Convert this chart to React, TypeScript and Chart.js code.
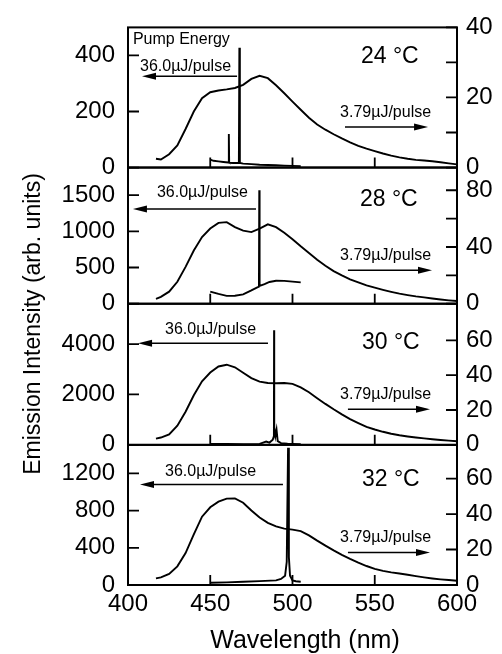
import React, { useEffect, useRef } from 'react';
import { Chart, registerables } from 'chart.js';
Chart.register(...registerables);

const FONT = '"Liberation Sans", Arial, Helvetica, sans-serif';

// ---- data ----
const temperatures = ['24 \u00b0C', '28 \u00b0C', '30 \u00b0C', '32 \u00b0C'];
const highPumpLabel = '36.0\u00b5J/pulse';
const lowPumpLabel = '3.79\u00b5J/pulse';
const pumpTitle = 'Pump Energy';
const xTitle = 'Wavelength (nm)';
const yTitle = 'Emission Intensity (arb. units)';

const xTickValues = [400, 450, 500, 550, 600];

// broad emission at 3.79 uJ/pulse (right axes)
const broadWavelengths = [417, 420, 425, 430, 435, 440, 445, 450, 455, 460, 465, 470, 475, 480, 485, 490, 495, 500, 505, 510, 515, 520, 525, 530, 535, 540, 545, 550, 555, 560, 565, 570, 575, 580, 585, 590, 595, 600];
const broad24 = [2.5, 2.3, 3.8, 6.3, 11, 16, 19.8, 21.5, 22, 22.3, 22.7, 23.6, 25.3, 26.2, 25.5, 23.5, 21.2, 18.8, 16.5, 14.2, 12.3, 10.8, 9.5, 8.3, 7.2, 6.2, 5.4, 4.7, 4.0, 3.4, 2.9, 2.5, 2.2, 2.0, 1.8, 1.5, 1.2, 0.9];
const broad28 = [3.5, 4.8, 8.5, 15.5, 26, 37.5, 47, 53, 57, 57.5, 54, 51.5, 50.5, 53, 56, 54, 50, 45.5, 40.5, 35.8, 31, 26.8, 23, 20, 17.2, 15, 12.9, 11.3, 9.8, 8.4, 7.1, 6.1, 5.2, 4.5, 3.7, 3.0, 2.4, 1.9];
const broad30 = [3.6, 4.2, 6.0, 11, 19, 28.5, 36.5, 41.5, 45, 46, 44.5, 41.4, 38.3, 36.3, 35.5, 35.4, 35.5, 35, 33, 30.2, 26.8, 23.5, 20.4, 17.5, 14.8, 12.5, 10.3, 8.8, 7.5, 6.4, 5.5, 4.8, 4.2, 3.7, 3.2, 2.8, 2.4, 2.1];
const broad32 = [3.7, 4.3, 6.2, 10.5, 18, 28.5, 38.5, 43.8, 47, 48.7, 48.8, 46.4, 42, 38, 35, 33, 31.8, 31.2, 30.4, 28, 25, 22.2, 19.5, 17, 14.7, 12.6, 10.7, 9.1, 8, 7.1, 6.5, 5.8, 5.0, 4.3, 3.7, 3.2, 2.8, 2.4];

// spectra at 36.0 uJ/pulse (left axes)
const pump24X = [450, 452, 455, 458, 461, 461.3, 461.5, 461.8, 464, 467.4, 467.7, 468.0, 470, 475, 480, 485, 490, 495, 500, 505];
const pump24Y = [28, 24, 22, 20, 18, 120, 18, 17, 16, 16, 427, 16, 14, 12, 10, 9, 8, 7, 6, 5];
const pump28X = [450, 455, 460, 465, 470, 475, 478, 479.6, 479.8, 480.0, 483, 486, 490, 495, 500, 505];
const pump28Y = [168, 135, 108, 110, 130, 185, 220, 235, 1567, 245, 270, 300, 318, 315, 305, 295];
const pump30X = [450, 460, 470, 480, 484, 486, 488, 488.7, 488.8, 488.9, 489.6, 490.3, 491, 493, 497, 500, 505];
const pump30Y = [40, 35, 30, 40, 130, 90, 200, 350, 4550, 700, 350, 600, 150, 70, 50, 40, 30];
const pump32X = [450, 460, 470, 480, 490, 493, 495.5, 496.5, 497.3, 497.8, 498.5, 500, 502, 505];
const pump32Y = [24, 28, 35, 42, 50, 65, 100, 250, 1475, 300, 100, 50, 40, 35];

const broadSeries = [broad24, broad28, broad30, broad32];
const pumpSeriesX = [pump24X, pump28X, pump30X, pump32X];
const pumpSeriesY = [pump24Y, pump28Y, pump30Y, pump32Y];

// axes
const leftMax = [500, 1880, 5600, 1507];
const rightMax = [40, 96, 81, 79];
const leftTicks = [[0, 200, 400], [0, 500, 1000, 1500], [0, 2000, 4000], [0, 400, 800, 1200]];
const rightTickMarks = [[0, 10, 20, 30, 40], [0, 20, 40, 60, 80], [0, 20, 40, 60], [0, 20, 40, 60]];
const rightTickLabels = [[0, 20, 40], [0, 40, 80], [0, 20, 40, 60], [0, 20, 40, 60]];
const xInnerTicks = [450, 500, 550];

// ---- layout (not data) ----
const panelWeights = [142, 138, 143, 142];
// x in nm, y as fraction of panel height from bottom
const annotations = [
  { pump: [403, 0.913], high: [407.3, 0.722], highArrow: [466.3, 408.5, 0.651], temp: [541.6, 0.793], low: [528.9, 0.389], lowArrow: [531.9, 582.4, 0.29] },
  { pump: null, high: [417.6, 0.819], highArrow: [477.8, 403, 0.696], temp: [541, 0.761], low: [528.9, 0.355], lowArrow: [533.7, 584.8, 0.246] },
  { pump: null, high: [422.5, 0.818], highArrow: [485.1, 406.1, 0.72], temp: [542.2, 0.727], low: [528.9, 0.357], lowArrow: [533.7, 583.6, 0.252] },
  { pump: null, high: [422.5, 0.81], highArrow: [494.2, 407.3, 0.718], temp: [542.2, 0.754], low: [528.9, 0.338], lowArrow: [533.7, 583.6, 0.232] },
];

function drawArrow(ctx: CanvasRenderingContext2D, x1: number, x2: number, y: number) {
  const dir = Math.sign(x2 - x1);
  ctx.beginPath();
  ctx.moveTo(x1, y);
  ctx.lineTo(x2 - dir * 6, y);
  ctx.lineWidth = 1.5;
  ctx.stroke();
  ctx.beginPath();
  ctx.moveTo(x2, y);
  ctx.lineTo(x2 - dir * 14, y - 3.5);
  ctx.lineTo(x2 - dir * 14, y + 3.5);
  ctx.closePath();
  ctx.fill();
}

const framePlugin = {
  id: 'framePlugin',
  afterDatasetsDraw(chart: any) {
    const ctx: CanvasRenderingContext2D = chart.ctx;
    const { left, right } = chart.chartArea;
    const xs = chart.scales.x;
    ctx.save();
    ctx.strokeStyle = '#000';
    ctx.fillStyle = '#000';
    for (let i = 0; i < 4; i++) {
      const ls = chart.scales['yL' + i];
      const rs = chart.scales['yR' + i];
      const top = ls.top, bottom = ls.bottom, h = bottom - top;
      ctx.lineWidth = 2;
      ctx.strokeRect(left, top, right - left, h);
      ctx.beginPath();
      xInnerTicks.forEach((v) => {
        const px = xs.getPixelForValue(v);
        ctx.moveTo(px, bottom);
        ctx.lineTo(px, bottom - 10);
      });
      ls.ticks.forEach((t: any) => {
        const py = ls.getPixelForValue(t.value);
        ctx.moveTo(left, py);
        ctx.lineTo(left + 11, py);
      });
      rs.ticks.forEach((t: any) => {
        const py = rs.getPixelForValue(t.value);
        ctx.moveTo(right, py);
        ctx.lineTo(right - 11, py);
      });
      ctx.lineWidth = 1.8;
      ctx.stroke();

      const a = annotations[i];
      const fy = (f: number) => bottom - f * h;
      ctx.textBaseline = 'middle';
      ctx.textAlign = 'left';
      ctx.font = `16px ${FONT}`;
      if (a.pump) ctx.fillText(pumpTitle, xs.getPixelForValue(a.pump[0]), fy(a.pump[1]));
      ctx.fillText(highPumpLabel, xs.getPixelForValue(a.high[0]), fy(a.high[1]));
      ctx.fillText(lowPumpLabel, xs.getPixelForValue(a.low[0]), fy(a.low[1]));
      drawArrow(ctx, xs.getPixelForValue(a.highArrow[0]), xs.getPixelForValue(a.highArrow[1]), fy(a.highArrow[2]));
      drawArrow(ctx, xs.getPixelForValue(a.lowArrow[0]), xs.getPixelForValue(a.lowArrow[1]), fy(a.lowArrow[2]));
      ctx.font = `23px ${FONT}`;
      ctx.fillText(temperatures[i], xs.getPixelForValue(a.temp[0]), fy(a.temp[1]));
    }
    // axis titles
    ctx.font = `25px ${FONT}`;
    ctx.textAlign = 'center';
    ctx.textBaseline = 'alphabetic';
    ctx.fillText(xTitle, 305, 648);
    ctx.save();
    ctx.translate(40, 324);
    ctx.rotate(-Math.PI / 2);
    ctx.font = `23px ${FONT}`;
    ctx.fillText(yTitle, 0, 0);
    ctx.restore();
    ctx.restore();
  },
};

export default function App() {
  const ref = useRef<HTMLCanvasElement>(null);
  useEffect(() => {
    const tickFont = { family: FONT, size: 24 };
    const scales: any = {
      x: {
        type: 'linear', min: 400, max: 600, position: 'bottom',
        afterBuildTicks: (s: any) => { s.ticks = xTickValues.map((v) => ({ value: v })); },
        ticks: { color: '#000', font: tickFont, padding: 5, maxRotation: 0, autoSkip: false, callback: (v: any) => String(v) },
        grid: { display: false, drawTicks: false },
        border: { display: false },
        afterFit: (s: any) => { s.height = 69; },
      },
    };
    // left axes are laid out in reverse definition order, so define them last-first
    for (let i = 3; i >= 0; i--) {
      scales['yL' + i] = {
        type: 'linear', position: 'left', stack: 'L', stackWeight: panelWeights[i],
        min: 0, max: leftMax[i], offset: false,
        afterBuildTicks: (s: any) => { s.ticks = leftTicks[i].map((v) => ({ value: v })); },
        ticks: { color: '#000', font: tickFont, padding: 13, autoSkip: false, callback: (v: any) => String(v) },
        grid: { display: false, drawTicks: false },
        border: { display: false },
        afterFit: (s: any) => { s.width = 128; },
      };
    }
    const datasets: any[] = [];
    for (let i = 0; i < 4; i++) {
      scales['yR' + i] = {
        type: 'linear', position: 'right', stack: 'R', stackWeight: panelWeights[i],
        min: 0, max: rightMax[i], offset: false,
        afterBuildTicks: (s: any) => { s.ticks = rightTickMarks[i].map((v) => ({ value: v })); },
        ticks: {
          color: '#000', font: tickFont, padding: 9, autoSkip: false,
          callback: (v: any) => (rightTickLabels[i].includes(v) ? String(v) : ''),
        },
        grid: { display: false, drawTicks: false },
        border: { display: false },
        afterFit: (s: any) => { s.width = 45; },
      };
      datasets.push({
        data: broadWavelengths.map((x, j) => ({ x, y: broadSeries[i][j] })),
        yAxisID: 'yR' + i, xAxisID: 'x',
        borderColor: '#000', borderWidth: 1.9, pointRadius: 0, fill: false, tension: 0,
      });
      datasets.push({
        data: pumpSeriesX[i].map((x, j) => ({ x, y: pumpSeriesY[i][j] })),
        yAxisID: 'yL' + i, xAxisID: 'x',
        borderColor: '#000', borderWidth: 1.9, pointRadius: 0, fill: false, tension: 0,
      });
    }
    const chart = new Chart(ref.current as HTMLCanvasElement, {
      type: 'line',
      data: { datasets },
      options: {
        responsive: false,
        animation: false,
        events: [],
        layout: { padding: { left: 0, right: 0, top: 21, bottom: 0 } },
        plugins: { legend: { display: false }, tooltip: { enabled: false }, title: { display: false } },
        scales,
      },
      plugins: [framePlugin],
    } as any);
    return () => chart.destroy();
  }, []);
  return (
    <div style={{ position: 'absolute', left: 0, top: 0, width: 502, height: 654, background: '#fff' }}>
      <canvas ref={ref} width={502} height={654} style={{ display: 'block', width: 502, height: 654 }} />
    </div>
  );
}
